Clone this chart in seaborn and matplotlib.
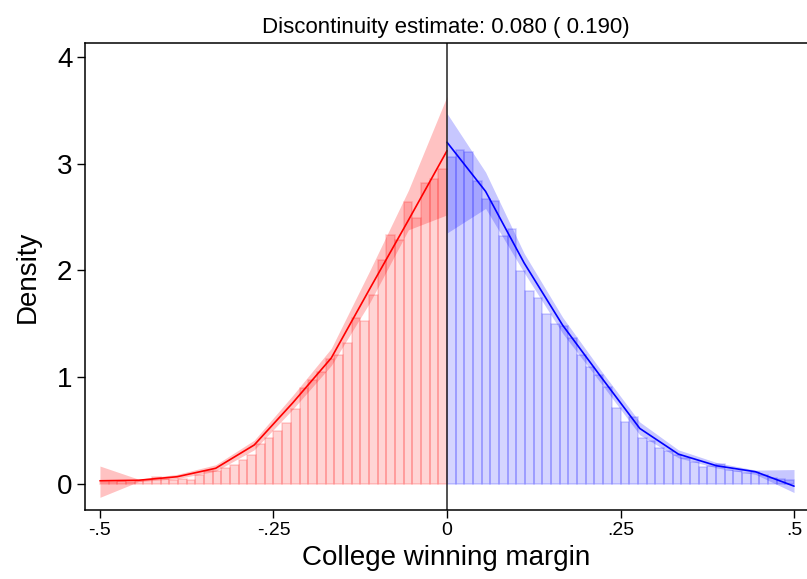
import numpy as np
import pandas as pd
import matplotlib
matplotlib.use("Agg")
import matplotlib.pyplot as plt
import seaborn as sns

# Histogram: bin width 0.0125, 40 bins on each side of the cutoff
bin_width = 0.0125
left_heights = [0.02, 0.02, 0.03, 0.02, 0.03, 0.04, 0.07, 0.05, 0.04, 0.05,
                0.04, 0.08, 0.12, 0.12, 0.15, 0.18, 0.22, 0.27, 0.37, 0.43,
                0.50, 0.57, 0.70, 0.90, 0.97, 1.05, 1.17, 1.21, 1.32, 1.55,
                1.53, 1.77, 2.10, 2.33, 2.28, 2.64, 2.49, 2.82, 2.86, 2.95]
right_heights = [3.06, 3.13, 3.11, 2.84, 2.67, 2.65, 2.32, 2.385, 1.99, 1.81,
                 1.74, 1.59, 1.50, 1.48, 1.37, 1.21, 1.10, 1.02, 0.91, 0.71,
                 0.58, 0.63, 0.43, 0.40, 0.34, 0.31, 0.27, 0.24, 0.21, 0.16,
                 0.17, 0.19, 0.13, 0.12, 0.10, 0.11, 0.08, 0.06, 0.05, 0.04]

# Local polynomial density estimates and confidence bands at evaluation points
x_left = [-0.5, -0.4444, -0.3889, -0.3333, -0.2778, -0.2222, -0.1667, -0.1111, -0.0556, 0.0]
f_left = [0.03, 0.035, 0.068, 0.147, 0.365, 0.76, 1.18, 1.83, 2.47, 3.12]
lo_left = [-0.125, 0.022, 0.05, 0.12, 0.32, 0.70, 1.11, 1.70, 2.38, 2.52]
hi_left = [0.168, 0.045, 0.09, 0.18, 0.41, 0.83, 1.27, 2.00, 2.75, 3.63]

x_right = [0.0, 0.0556, 0.1111, 0.1667, 0.2222, 0.2778, 0.3333, 0.3889, 0.4444, 0.5]
f_right = [3.20, 2.74, 2.07, 1.486, 1.0, 0.52, 0.28, 0.17, 0.115, -0.02]
lo_right = [2.35, 2.58, 1.98, 1.41, 0.94, 0.46, 0.245, 0.15, 0.09, -0.08]
hi_right = [3.47, 2.92, 2.16, 1.56, 1.06, 0.58, 0.32, 0.20, 0.13, 0.135]

title_text = "Discontinuity estimate: 0.080 ( 0.190)"
x_ticks = [-0.5, -0.25, 0, 0.25, 0.5]
x_ticklabels = ["-.5", "-.25", "0", ".25", ".5"]
y_ticks = [0, 1, 2, 3, 4]

sns.set_style("white")
plt.rcParams["font.family"] = ["Liberation Sans", "DejaVu Sans"]
plt.rcParams["text.color"] = "black"
plt.rcParams["axes.labelcolor"] = "black"
plt.rcParams["xtick.color"] = "black"
plt.rcParams["ytick.color"] = "black"

fig = plt.figure(figsize=(8.07, 5.79), dpi=100)
ax = fig.add_axes([0.1053, 0.1192, 0.8947, 0.8065])

left_edges = [round(-0.5 + bin_width * i, 6) for i in range(len(left_heights) + 1)]
right_edges = [round(0.0 + bin_width * i, 6) for i in range(len(right_heights) + 1)]
left_df = pd.DataFrame({"x": [(a + b) / 2 for a, b in zip(left_edges[:-1], left_edges[1:])],
                        "h": left_heights})
right_df = pd.DataFrame({"x": [(a + b) / 2 for a, b in zip(right_edges[:-1], right_edges[1:])],
                         "h": right_heights})

n_before = len(ax.patches)
sns.histplot(data=left_df, x="x", weights="h", bins=left_edges, stat="count", ax=ax)
for p in ax.patches[n_before:]:
    p.set_facecolor((1, 0, 0, 0.17))
    p.set_edgecolor((1, 0, 0, 0.18))
    p.set_linewidth(1.1)
n_before = len(ax.patches)
sns.histplot(data=right_df, x="x", weights="h", bins=right_edges, stat="count", ax=ax)
for p in ax.patches[n_before:]:
    p.set_facecolor((0, 0, 1, 0.17))
    p.set_edgecolor((0, 0, 1, 0.18))
    p.set_linewidth(1.1)

# Confidence bands
ax.fill_between(x_left, lo_left, hi_left, color=(1, 0, 0, 0.24), linewidth=0)
ax.fill_between(x_right, lo_right, hi_right, color=(0, 0, 1, 0.22), linewidth=0)

# Density estimates
sns.lineplot(x=x_left, y=f_left, color="red", linewidth=1.2, ax=ax, sort=False)
sns.lineplot(x=x_right, y=f_right, color="blue", linewidth=1.2, ax=ax, sort=False)

ax.axvline(0, color="#222222", linewidth=1.1)

ax.set_xlim(-0.5216, 0.5187)
ax.set_ylim(-0.2434, 4.129)
ax.set_xticks(x_ticks)
ax.set_xticklabels(x_ticklabels)
ax.set_yticks(y_ticks)
ax.tick_params(axis="x", labelsize=14, length=6, width=1, direction="out", pad=3,
               bottom=True, colors="black")
ax.tick_params(axis="y", labelsize=20, length=6, width=1, direction="out", pad=3,
               left=True, colors="black")

for s in ["left", "bottom", "top"]:
    ax.spines[s].set_visible(True)
    ax.spines[s].set_color("black")
    ax.spines[s].set_linewidth(1.1)
ax.spines["right"].set_visible(False)

ax.set_xlabel("College winning margin", fontsize=20, labelpad=4, color="black")
ax.set_ylabel("Density", fontsize=20, labelpad=12, color="black")
ax.set_title(title_text, fontsize=16, pad=7, color="black")

fig.savefig("out.png", dpi=100)
